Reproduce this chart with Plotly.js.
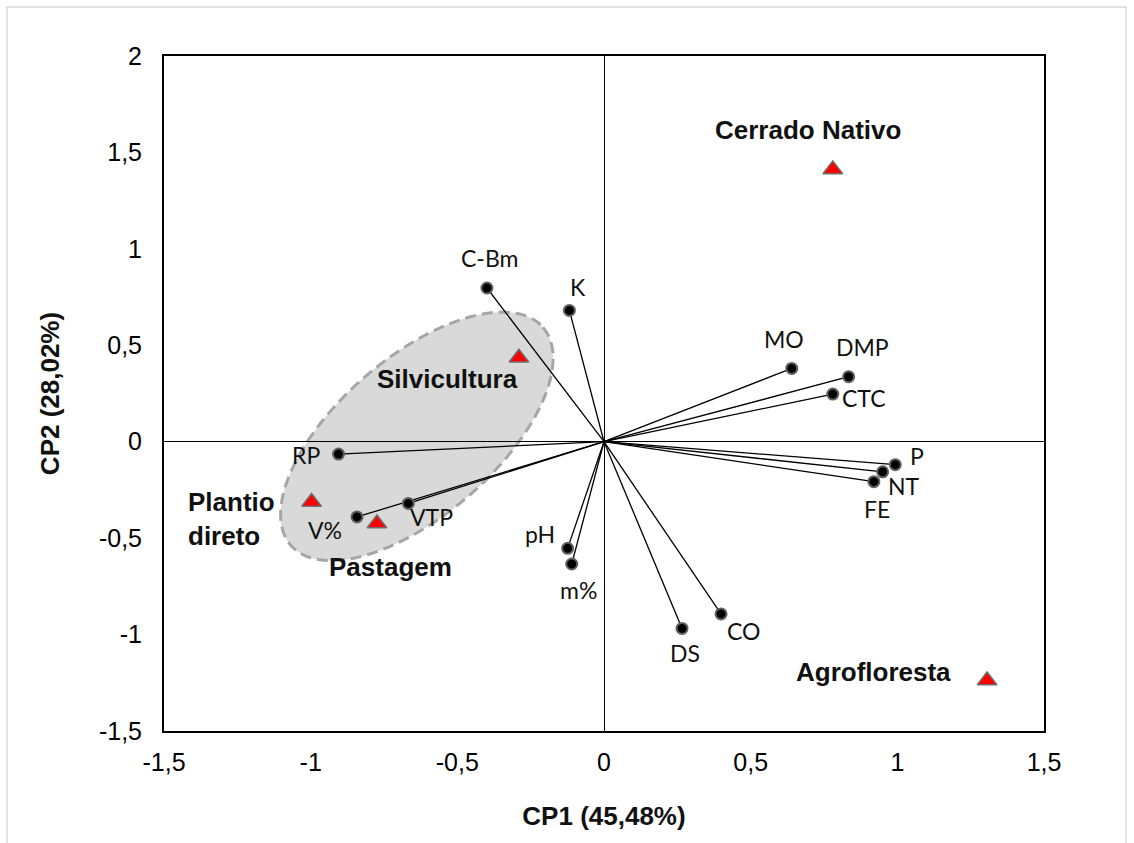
<!DOCTYPE html>
<html>
<head>
<meta charset="utf-8">
<script src="https://cdn.plot.ly/plotly-3.0.1.min.js"></script>
<style>
  html, body { margin: 0; padding: 0; background: #ffffff; }
  #chart { width: 1134px; height: 843px; }
</style>
</head>
<body>
<div id="chart"></div>
<script>
// ---------- DATA ----------
// Soil attribute loadings (variables)
const varNames = ["C-Bm", "K", "MO", "DMP", "CTC", "P", "NT", "FE", "RP", "V%", "VTP", "pH", "m%", "DS", "CO"];
const varCP1   = [-0.399, -0.118, 0.640, 0.834, 0.780, 0.993, 0.950, 0.920, -0.905, -0.842, -0.667, -0.124, -0.110, 0.266, 0.399];
const varCP2   = [0.797, 0.681, 0.380, 0.337, 0.247, -0.119, -0.156, -0.207, -0.064, -0.390, -0.320, -0.553, -0.634, -0.968, -0.893];

// Land use systems (scores)
const sysNames = ["Cerrado Nativo", "Silvicultura", "Plantio<br>direto", "Pastagem", "Agrofloresta"];
const sysCP1   = [0.780, -0.290, -0.997, -0.774, 1.306];
const sysCP2   = [1.412, 0.435, -0.313, -0.424, -1.238];

// Axis ticks
const tickVals = [-1.5, -1, -0.5, 0, 0.5, 1, 1.5, 2];
const tickText = ["-1,5", "-1", "-0,5", "0", "0,5", "1", "1,5", "2"];

// ---------- STYLE / LABEL OFFSETS (pixels) ----------
const varLabelOffset = {
  "C-Bm": [3, -30], "K": [9, -23], "MO": [-8, -29], "DMP": [14, -30], "CTC": [31, 4],
  "P": [22, -9], "NT": [21, 14], "FE": [3, 27], "RP": [-33, 1], "V%": [-32, 13],
  "VTP": [23, 14], "pH": [-28, -14], "m%": [7, 26], "DS": [3, 25], "CO": [22, 17]
};
const sysLabelOffset = {
  "Cerrado Nativo": [-25, -39], "Silvicultura": [-71, 21], "Plantio<br>direto": [-126, 17],
  "Pastagem": [14, 44], "Agrofloresta": [-114, -8]
};
// Grouping ellipse (centre and semi-axis vectors, in axis units)
const ellipseGeom = { cx: -0.638, cy: 0.028, ax: 0.430, ay: 0.565, bx: 0.176, by: -0.310 };

// ---------- BUILD ----------
const lineX = [], lineY = [];
varNames.forEach((n, i) => { lineX.push(0, varCP1[i], null); lineY.push(0, varCP2[i], null); });

const traces = [
  { type: "scatter", mode: "lines", x: lineX, y: lineY, hoverinfo: "skip",
    line: { color: "#000000", width: 1.3 }, showlegend: false },
  { type: "scatter", mode: "markers", x: varCP1, y: varCP2, text: varNames,
    marker: { symbol: "circle", size: 11, color: "#000000", line: { color: "#606060", width: 2 } },
    showlegend: false },
  { type: "scatter", mode: "markers", x: sysCP1, y: sysCP2, text: sysNames,
    marker: { symbol: "triangle-up", size: 17, color: "#ff0000", line: { color: "#6e6e6e", width: 1.5 } },
    showlegend: false }
];

function ellipsePath(g) {
  const pts = [];
  const N = 96;
  for (let k = 0; k <= N; k++) {
    const t = 2 * Math.PI * k / N;
    const x = g.cx + g.ax * Math.cos(t) + g.bx * Math.sin(t);
    const y = g.cy + g.ay * Math.cos(t) + g.by * Math.sin(t);
    pts.push((k === 0 ? "M" : "L") + x.toFixed(4) + "," + y.toFixed(4));
  }
  return pts.join(" ") + " Z";
}

const annotations = [];
varNames.forEach((n, i) => {
  const o = varLabelOffset[n];
  annotations.push({
    x: varCP1[i], y: varCP2[i], xref: "x", yref: "y", text: n, showarrow: false,
    xshift: o[0], yshift: -o[1], xanchor: "center", yanchor: "middle",
    font: { family: "Lato, 'Open Sans', sans-serif", size: 23, color: "#111111" }
  });
});
sysNames.forEach((n, i) => {
  const o = sysLabelOffset[n];
  const multi = n.indexOf("<br>") >= 0;
  annotations.push({
    x: sysCP1[i], y: sysCP2[i], xref: "x", yref: "y", text: "<b>" + n + "</b>", showarrow: false,
    xshift: o[0], yshift: -o[1], xanchor: multi ? "left" : "center", yanchor: "middle", align: "left",
    font: { family: "'Liberation Sans', Arial, sans-serif", size: 26, color: "#111111" }
  });
});

const L = 164, R = 90, T = 56, B = 112;
const W = 1134, H = 843;
const pw = W - L - R, ph = H - T - B;

const shapes = [
  { type: "path", xref: "x", yref: "y", path: ellipsePath(ellipseGeom), layer: "below",
    fillcolor: "#d9d9d9", line: { color: "#a6a6a6", width: 3, dash: "11px,6px" } },
  { type: "rect", xref: "paper", yref: "paper",
    x0: (7 - L) / pw, x1: (1126 - L) / pw, y0: (H - B - 860) / ph, y1: (H - B - 7) / ph,
    line: { color: "#d9d9d9", width: 1.5 }, fillcolor: "rgba(0,0,0,0)", layer: "below" }
];

const axisCommon = {
  showgrid: false, zeroline: true, zerolinecolor: "#000000", zerolinewidth: 1,
  showline: true, mirror: true, linecolor: "#000000", linewidth: 2,
  ticks: "", tickmode: "array",
  tickfont: { family: "'Liberation Sans', Arial, sans-serif", size: 25, color: "#000000" },
  fixedrange: true
};

const layout = {
  width: W, height: H,
  margin: { l: L, r: R, t: T, b: B, pad: 0 },
  paper_bgcolor: "#ffffff", plot_bgcolor: "#ffffff",
  showlegend: false,
  xaxis: Object.assign({}, axisCommon, {
    range: [-1.5, 1.5], autorange: false,
    tickvals: tickVals.slice(0, 7), ticktext: tickText.slice(0, 7),
    ticklabelstandoff: 8,
    title: { text: "<b>CP1 (45,48%)</b>", standoff: 32,
      font: { family: "'Liberation Sans', Arial, sans-serif", size: 26, color: "#111111" } },
    automargin: false
  }),
  yaxis: Object.assign({}, axisCommon, {
    range: [-1.5, 2], autorange: false,
    tickvals: tickVals, ticktext: tickText,
    ticklabelstandoff: 15,
    title: { text: "<b>CP2 (28,02%)</b>", standoff: 32,
      font: { family: "'Liberation Sans', Arial, sans-serif", size: 26, color: "#111111" } },
    automargin: false
  }),
  shapes: shapes,
  annotations: annotations,
  hovermode: "closest"
};

Plotly.newPlot("chart", traces, layout, { displayModeBar: false, staticPlot: false });
</script>
</body>
</html>
